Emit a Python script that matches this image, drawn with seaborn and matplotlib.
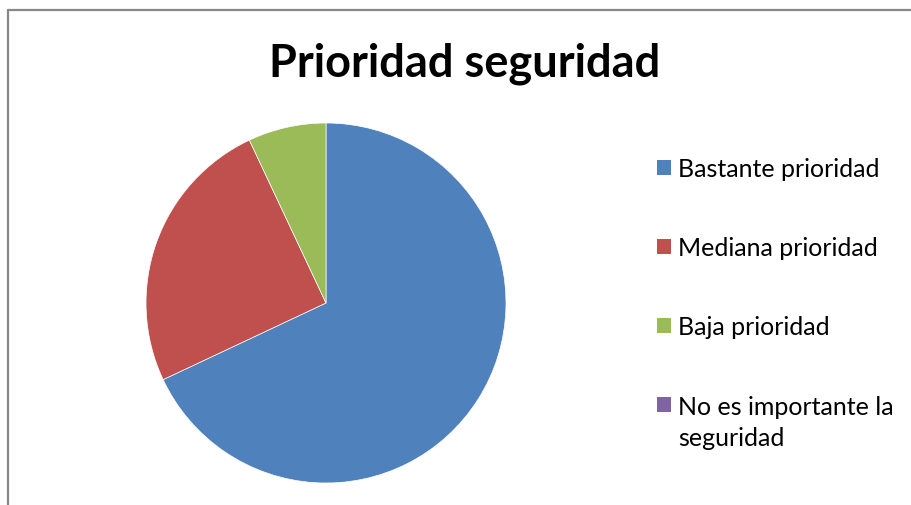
import matplotlib
matplotlib.use("Agg")
import matplotlib.pyplot as plt
import seaborn as sns
from matplotlib.patches import Patch
from matplotlib.lines import Line2D

# data
labels = ["Bastante prioridad", "Mediana prioridad", "Baja prioridad",
          "No es importante la"]
label_wrap = "seguridad"   # second line of the last legend entry
values = [68, 25, 7, 0]
colors = ["#4F81BD", "#C0504D", "#9BBB59", "#8064A2"]
title = "Prioridad seguridad"

sns.set_style("white")
plt.rcParams['font.family'] = ['Lato', 'DejaVu Sans']
plt.rcParams['text.color'] = 'black'

fig = plt.figure(figsize=(9.12, 5.06), dpi=100)
W, H = 912, 506

# frame lines (top and left visible)
fig.add_artist(Line2D([8 / W, 8 / W], [0, 1 - 11 / H], color="#888888", lw=1.6))
fig.add_artist(Line2D([8 / W, 1], [1 - 11 / H, 1 - 11 / H], color="#888888", lw=1.6))

ax = fig.add_axes([146 / W, 22 / H, 360 / W, 360 / H])
nz = [(v, c) for v, c in zip(values, colors) if v > 0]
ax.pie([v for v, _ in nz], colors=[c for _, c in nz], startangle=90,
       counterclock=False, radius=1.0,
       wedgeprops=dict(linewidth=0.5, edgecolor="white"))
ax.set_aspect("equal")
ax.set_xlim(-1, 1)
ax.set_ylim(-1, 1)
ax.axis("off")

fig.text(465 / W, 1 - 64 / H, title, ha="center", va="center",
         fontsize=32.5, fontweight="bold", color="black")

handles = [Patch(facecolor=c, edgecolor="none") for c in colors]
leg = fig.legend(handles, labels, loc="upper left",
                 bbox_to_anchor=(657 / W, 1 - 158 / H), frameon=False,
                 fontsize=18, handlelength=0.55, handleheight=0.55,
                 handletextpad=0.3, labelspacing=2.25, borderpad=0,
                 borderaxespad=0, labelcolor="black")

fig.canvas.draw()
last = leg.get_texts()[-1]
bb = last.get_window_extent()
fig.text(bb.x0 / W, (bb.y0 - 31) / H, label_wrap, ha="left", va="bottom",
         fontsize=18, color="black")

fig.savefig("out.png", dpi=100, facecolor="white")
